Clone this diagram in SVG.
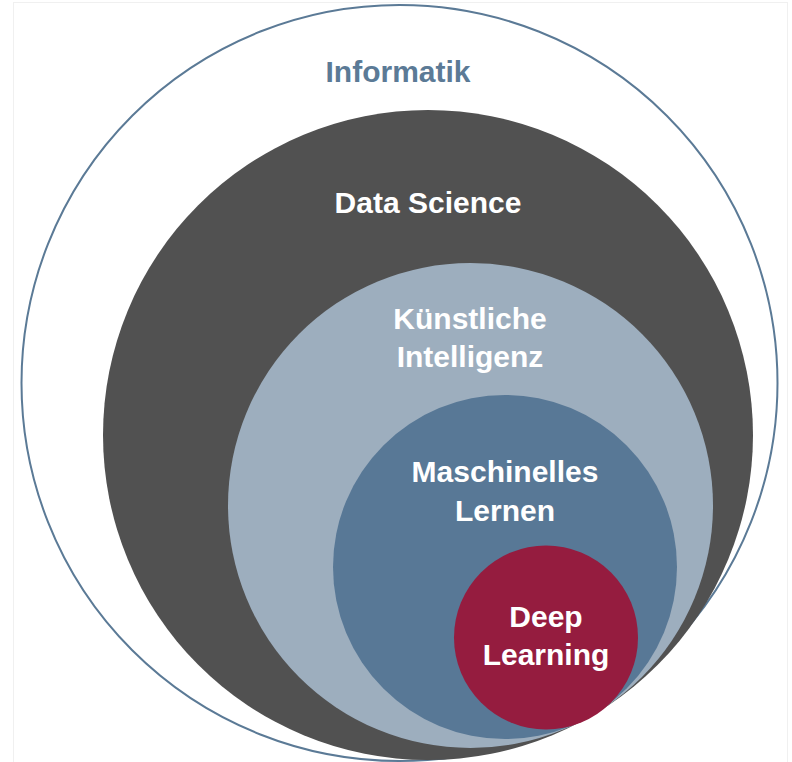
<svg xmlns="http://www.w3.org/2000/svg" width="792" height="762" viewBox="0 0 792 762">
<style>
.lbl{font-family:"Liberation Sans",Arial,sans-serif;font-weight:bold;font-size:30px;text-anchor:middle;fill:#ffffff}
</style>
<rect x="0" y="0" width="792" height="762" fill="#ffffff"/>
<rect x="13.5" y="2.5" width="774" height="780" fill="none" stroke="#f0f0f0" stroke-width="1"/>
<g id="informatik">
<circle cx="399.5" cy="383" r="378" fill="#ffffff" stroke="#5b7a96" stroke-width="2"/>
<text class="lbl" x="398" y="82" style="fill:#5b7a96">Informatik</text>
</g>
<g id="data-science">
<circle cx="428" cy="435" r="325" fill="#515151"/>
<text class="lbl" x="428" y="213">Data Science</text>
</g>
<g id="kuenstliche-intelligenz">
<circle cx="470.5" cy="505.5" r="242.5" fill="#9daebe"/>
<text class="lbl" x="470" y="329">Künstliche</text>
<text class="lbl" x="470" y="367">Intelligenz</text>
</g>
<g id="maschinelles-lernen">
<circle cx="505" cy="567" r="172" fill="#587896"/>
<text class="lbl" x="505" y="482">Maschinelles</text>
<text class="lbl" x="505" y="521">Lernen</text>
</g>
<g id="deep-learning">
<circle cx="546" cy="637.5" r="92" fill="#951c3f"/>
<text class="lbl" x="546" y="627">Deep</text>
<text class="lbl" x="546" y="665">Learning</text>
</g>
<g id="connectors"></g>
</svg>
